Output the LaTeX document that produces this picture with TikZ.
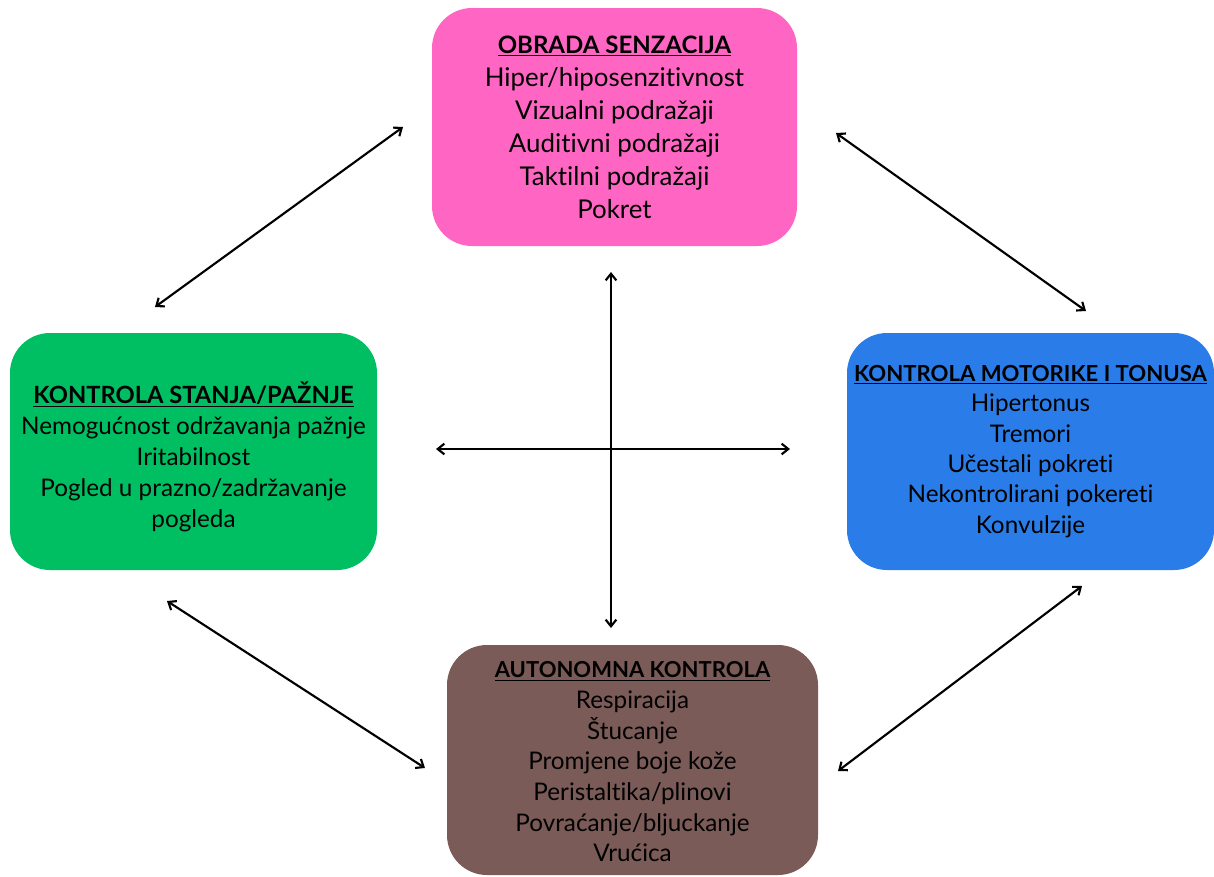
\documentclass[tikz,border=0pt]{standalone}
\usepackage{fontspec}
\setmainfont{Lato}[Ligatures={NoCommon}]
\usetikzlibrary{arrows.meta}
\definecolor{cpink}{HTML}{FF66C4}
\definecolor{cgreen}{HTML}{00BF63}
\definecolor{cblue}{HTML}{2A7DE8}
\definecolor{cbrown}{HTML}{7A5B58}
\tikzset{
  box/.style={rounded corners=30pt, inner sep=0pt},
  txt/.style={inner sep=0pt, align=center, text=black},
  link/.style={line width=1.6pt, {Straight Barb[length=5pt,width=8pt]}-{Straight Barb[length=5pt,width=8pt]}}
}
\newcommand{\ttl}[2][18pt]{{\fontsize{#1}{#1}\selectfont\textbf{\underline{#2}}}}
\newcommand{\bx}[2]{\fontsize{#1}{#2}\selectfont}
\begin{document}
\begin{tikzpicture}[x=0.75pt,y=-0.75pt]
\useasboundingbox (0,0) rectangle (1214,876);
\path[fill=white] (0,0) rectangle (1214,876);
% boxes
\node[box, fill=cpink, minimum width=365*0.75pt, minimum height=238*0.75pt] (sen) at (614.5,127) {};
\node[box, fill=cgreen, minimum width=367*0.75pt, minimum height=237*0.75pt] (sta) at (193.5,451.5) {};
\node[box, fill=cblue, minimum width=367*0.75pt, minimum height=237*0.75pt] (mot) at (1030.5,451.5) {};
\node[box, fill=cbrown, minimum width=371*0.75pt, minimum height=230*0.75pt] (aut) at (632.5,760) {};
% texts
\node[txt, font=\bx{19.4pt}{24.75pt}] (senT) at ([yshift=0pt]sen.center)
 {\ttl{OBRADA SENZACIJA}\\Hiper/hiposenzitivnost\\Vizualni podražaji\\Auditivni podražaji\\Taktilni podražaji\\Pokret};
\node[txt, font=\bx{18.2pt}{23.25pt}] (staT) at ([yshift=-4pt]sta.center)
 {\ttl[17.8pt]{KONTROLA STANJA/PAŽNJE}\\Nemogućnost održavanja pažnje\\Iritabilnost\\Pogled u prazno/zadržavanje\\pogleda};
\node[txt, font=\bx{18.2pt}{22.8pt}] (motT) at ([yshift=0pt]mot.center)
 {\ttl[16.6pt]{KONTROLA MOTORIKE I TONUSA}\\Hipertonus\\Tremori\\Učestali pokreti\\Nekontrolirani pokereti\\Konvulzije};
\node[txt, font=\bx{18.2pt}{23pt}] (autT) at ([yshift=-1.5pt]aut.center)
 {\ttl[16.5pt]{AUTONOMNA KONTROLA}\\Respiracija\\Štucanje\\Promjene boje kože\\Peristaltika/plinovi\\Povraćanje/bljuckanje\\Vrućica};
% connector end points
\coordinate (a1s) at (403,127); \coordinate (a1e) at (155,307);
\coordinate (a2s) at (836,133); \coordinate (a2e) at (1086,311);
\coordinate (a3s) at (167,601); \coordinate (a3e) at (425,768);
\coordinate (a4s) at (1082,586); \coordinate (a4e) at (838,771);
\coordinate (vs) at (611,272); \coordinate (ve) at (611,628);
\coordinate (hs) at (436,449); \coordinate (he) at (790,449);
\draw[link] (a1s) -- (a1e);
\draw[link] (a2s) -- (a2e);
\draw[link] (a3s) -- (a3e);
\draw[link] (a4s) -- (a4e);
\draw[link] (vs) -- (ve);
\draw[link] (hs) -- (he);
\end{tikzpicture}
\end{document}
